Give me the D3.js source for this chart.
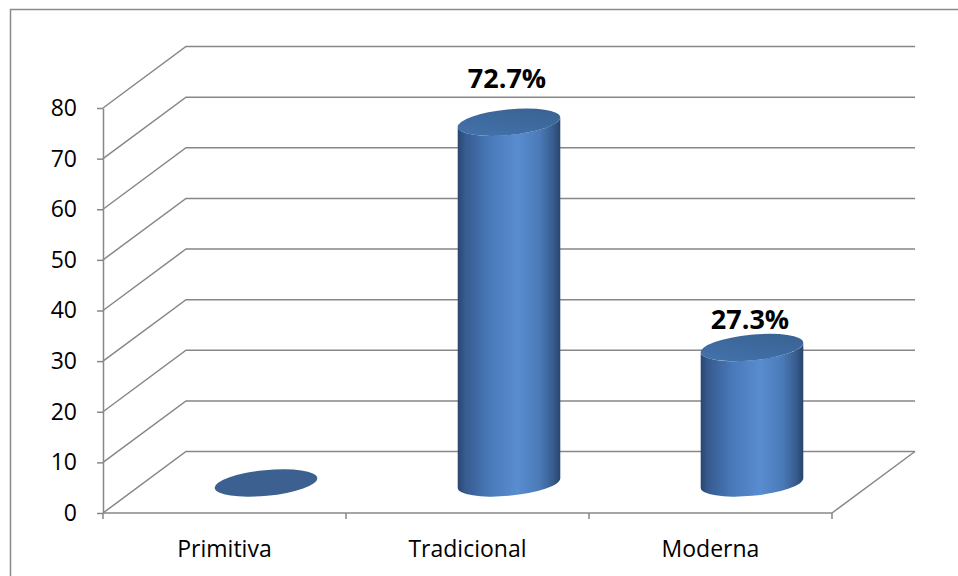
<!DOCTYPE html>
<html>
<head>
<meta charset="utf-8">
<script src="https://cdn.jsdelivr.net/npm/d3@7"></script>
<style>
  html, body { margin: 0; padding: 0; background: #ffffff; }
  svg { display: block; }
  text { font-family: "Open Sans", "Liberation Sans", sans-serif; }
</style>
</head>
<body>
<svg id="chart" width="958" height="576"></svg>
<script>
// Data
const categories = ["Primitiva", "Tradicional", "Moderna"];
const values = [0, 72.7, 27.3];
const valueLabels = ["", "72.7%", "27.3%"];
const yTicks = [0, 10, 20, 30, 40, 50, 60, 70, 80];

const svg = d3.select("#chart");
const W = 958, H = 576;

// 3D layout: front plane, back wall offset and cylinder mid-depth plane
const left = 103, right = 832;
const depthX = 83, depthY = -61.5;
const gridEnd = right + depthX;

const x = d3.scaleBand().domain(categories).range([left, right]).padding(0);
const yFront = d3.scaleLinear().domain([0, 80]).range([513, 108]);
const yBack = v => yFront(v) + depthY;
const yMid = d3.scaleLinear().domain([0, 80]).range([483, 86]);
const yLabel = d3.scaleLinear().domain([0, 80]).range([474, 49.4]);

const gridColor = "#878787";

// Outer frame
svg.append("rect")
  .attr("x", 10.5).attr("y", 9.5)
  .attr("width", W).attr("height", H)
  .attr("fill", "none").attr("stroke", "#8a8a8a").attr("stroke-width", 1.5);

// Gridlines: side-wall diagonal + back-wall horizontal
const grid = svg.append("g");
grid.selectAll("path").data(yTicks).join("path")
  .attr("d", v => `M${left},${yFront(v)}L${left + depthX},${yBack(v)}L${gridEnd},${yBack(v)}`)
  .attr("fill", "none").attr("stroke", gridColor).attr("stroke-width", 1.5);

// Floor right edge
svg.append("line")
  .attr("x1", right).attr("y1", yFront(0))
  .attr("x2", gridEnd).attr("y2", yBack(0))
  .attr("stroke", gridColor).attr("stroke-width", 1.5);

// Y axis
const yAxis = svg.append("g")
  .attr("transform", `translate(${left},0)`)
  .call(d3.axisLeft(yFront).tickValues(yTicks).tickSize(6).tickSizeOuter(0).tickPadding(20));
yAxis.select(".domain").attr("stroke", gridColor).attr("stroke-width", 1.5);
yAxis.selectAll(".tick line").attr("stroke", gridColor).attr("stroke-width", 1.5);
yAxis.selectAll(".tick text")
  .attr("fill", "#000").style("font-size", "23px")
  .style("font-family", "'Open Sans', sans-serif");

// X axis: baseline, boundary ticks, category labels
const xAxis = svg.append("g");
xAxis.append("line")
  .attr("x1", left).attr("x2", right)
  .attr("y1", yFront(0)).attr("y2", yFront(0))
  .attr("stroke", gridColor).attr("stroke-width", 1.5);
const bounds = categories.map(c => x(c)).concat([x.range()[1]]);
xAxis.selectAll("line.tk").data(bounds).join("line")
  .attr("class", "tk")
  .attr("x1", d => d).attr("x2", d => d)
  .attr("y1", yFront(0)).attr("y2", yFront(0) + 6)
  .attr("stroke", gridColor).attr("stroke-width", 1.5);
xAxis.selectAll("text").data(categories).join("text")
  .attr("x", d => x(d) + x.bandwidth() / 2)
  .attr("y", 557)
  .attr("text-anchor", "middle")
  .style("font-size", "23px")
  .attr("fill", "#000")
  .text(d => d);

// Gradients
const defs = svg.append("defs");
const bodyGrad = defs.append("linearGradient").attr("id", "cylBody")
  .attr("x1", 0).attr("x2", 1).attr("y1", 0).attr("y2", 0);
[[0, "#2a4670"], [0.07, "#365b8f"], [0.3, "#4878b8"], [0.58, "#598dd0"],
 [0.8, "#4a7ab8"], [0.93, "#375c8e"], [1, "#2a446b"]]
  .forEach(([o, c]) => bodyGrad.append("stop").attr("offset", o).attr("stop-color", c));
const capGrad = defs.append("linearGradient").attr("id", "cylTop")
  .attr("x1", 0).attr("x2", 1).attr("y1", 1).attr("y2", 0);
[[0, "#4473ae"], [1, "#37618f"]]
  .forEach(([o, c]) => capGrad.append("stop").attr("offset", o).attr("stop-color", c));

// Cylinders
const rx = x.bandwidth() * 0.212, ry = 12.8, tiltDeg = -5.5;
const th = tiltDeg * Math.PI / 180;
function pt(cx, cy, t) {
  return [cx + rx * Math.cos(t) * Math.cos(th) - ry * Math.sin(t) * Math.sin(th),
          cy + rx * Math.cos(t) * Math.sin(th) + ry * Math.sin(t) * Math.cos(th)];
}
const t0 = Math.atan2(-ry * Math.sin(th), rx * Math.cos(th));

const bars = svg.append("g");
categories.forEach((c, i) => {
  const v = values[i];
  const cx = x(c) + x.bandwidth() / 2 + depthX / 2;
  const cyB = yMid(0), cyT = yMid(v);
  if (v > 0) {
    const lB = pt(cx, cyB, t0 + Math.PI), rB = pt(cx, cyB, t0);
    const lT = pt(cx, cyT, t0 + Math.PI), rT = pt(cx, cyT, t0);
    const d = `M${lT[0]},${lT[1]}L${lB[0]},${lB[1]}` +
      `A${rx},${ry} ${tiltDeg} 0 0 ${rB[0]},${rB[1]}` +
      `L${rT[0]},${rT[1]}` +
      `A${rx},${ry} ${tiltDeg} 0 1 ${lT[0]},${lT[1]}Z`;
    bars.append("path").attr("d", d).attr("fill", "url(#cylBody)");
    bars.append("ellipse")
      .attr("cx", cx).attr("cy", cyT).attr("rx", rx).attr("ry", ry)
      .attr("transform", `rotate(${tiltDeg},${cx},${cyT})`)
      .attr("fill", "url(#cylTop)");
  } else {
    bars.append("ellipse")
      .attr("cx", cx).attr("cy", cyT).attr("rx", rx).attr("ry", ry)
      .attr("transform", `rotate(${tiltDeg},${cx},${cyT})`)
      .attr("fill", "#3c6190");
  }
  if (valueLabels[i]) {
    svg.append("text")
      .attr("x", cx - 2).attr("y", yLabel(v))
      .attr("text-anchor", "middle")
      .style("font-size", "27px").style("font-weight", "bold")
      .attr("fill", "#000")
      .text(valueLabels[i]);
  }
});
</script>
</body>
</html>
